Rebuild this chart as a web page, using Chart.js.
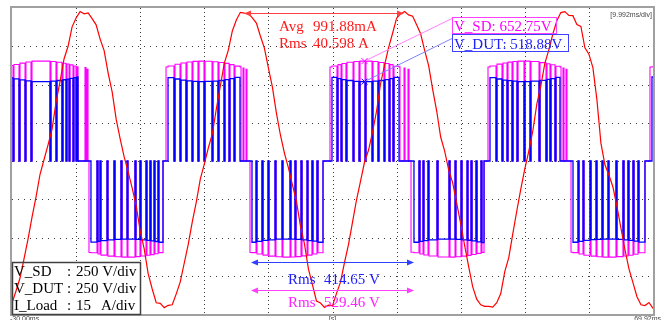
<!DOCTYPE html>
<html><head><meta charset="utf-8">
<script src="https://cdn.jsdelivr.net/npm/chart.js@4.4.1/dist/chart.umd.min.js"></script>
<style>html,body{margin:0;padding:0;background:#fff;overflow:hidden}#wrap{width:662px;height:320px;position:relative}</style>
</head><body><div id="wrap"><canvas id="c" width="662" height="320"></canvas></div>
<script>
// ---- scope settings ----
const timeRangeMs = [-30, 69.92];
const msPerDiv = 9.992;
const voltsPerDiv = 250;
const ampsPerDiv = 15;
const sampleStepMs = 0.6245;

// ---- I_Load (A), sampled every sampleStepMs from -30 ms ----
const currentA = [
-55.7,-51.0,-45.9,-38.4,-30.6,-22.0,-14.1,-5.2,0.6,6.3,12.5,23.1,31.2,40.1,45.0,52.6,56.1,58.6,57.7,58.1,55.8,53.4,47.8,43.3,34.5,27.1,16.4,8.7,1.6,-4.3,-10.6,-17.6,-27.5,-34.5,-44.3,-50.2,-55.6,-55.8,
-57.5,-56.6,-56.4,-52.1,-47.4,-40.0,-32.6,-23.9,-16.1,-7.1,-1.2,5.1,10.6,20.4,29.4,38.4,43.5,51.0,55.3,58.3,58.0,57.9,56.1,54.1,49.0,44.3,36.5,29.0,18.8,10.2,3.1,-2.7,-9.4,-15.7,-25.5,-32.5,-42.4,-48.6,-54.9,-55.7,-57.4,
-56.5,-56.8,-51.9,-47.5,-39.8,-32.7,-24.0,-15.2,-7.9,-0.4,4.3,11.4,19.6,30.3,37.6,44.5,50.1,56.0,57.7,58.6,57.3,56.8,53.4,49.9,43.4,37.4,28.1,19.7,9.4,3.9,-3.5,-8.6,-16.5,-24.6,-33.3,-41.5,-49.4,-54.2,-56.4,-57.0,
-57.0,-57.3,-55.6,-52.0,-43.4,-37.9,-28.6,-19.6,-11.0,-3.1,3.9,11.8,22.3,29.5,38.3,43.6,49.8,55.0,58.2,58.6,57.1,57.0,53.5,52.8,44.4,41.9,36.6,24.0,7.0,-1.5,-5.5,-10.2,-17.8,-26.3,-34.8,-42.3,-47.7,-53.2,-56.4,-56.7,-55.5,-57.8
];

// ---- switching events: from each time on, the trace holds the listed level ----
const switchTimesMs = [
-30.00,-29.84,-29.69,-28.91,-28.75,-27.97,-27.82,-27.04,-26.88,-24.08,-23.92,-23.14,-22.99,-22.21,-22.05,-21.58,-21.43,-21.11,-20.96,-20.49,-20.34,-20.02,-19.87,-19.71,-18.62,-18.46,-18.31,-18.15,
-18.00,-17.69,-16.75,-16.59,-16.28,-16.13,-15.19,-15.04,-14.10,-13.94,-13.01,-12.85,-12.07,-11.92,-10.83,-10.67,-10.05,-9.89,-9.11,-8.96,-8.49,-8.33,-7.86,-7.71,-7.24,-7.09,-6.46,
-5.99,-5.68,-4.75,-4.59,-3.81,-3.66,-2.88,-2.72,-1.94,-1.79,-1.01,-0.85,-0.07,0.09,1.18,1.33,2.11,2.27,3.05,3.20,3.83,3.98,4.61,4.76,5.54,5.70,6.01,6.16,6.48,6.63,
7.10,7.41,8.04,8.19,8.97,9.13,9.91,10.06,11.00,11.15,12.09,12.24,13.34,13.49,14.11,14.27,15.05,15.21,15.99,16.14,16.76,16.92,17.54,17.70,18.48,
19.57,19.88,20.66,20.82,21.29,21.44,22.06,22.22,23.16,23.31,24.09,24.25,25.03,25.18,26.12,26.27,27.05,27.21,27.99,28.14,28.77,28.92,29.39,29.55,30.33,30.48,31.11,31.26,31.73,31.89,
32.20,32.66,33.44,33.60,34.07,34.22,34.85,35.00,36.25,36.41,38.12,38.28,39.06,39.21,39.99,40.15,40.93,41.08,41.55,41.71,42.33,42.49,43.11,43.26,43.58,
44.20,44.51,45.45,45.60,46.38,46.54,47.16,47.32,47.94,48.10,48.72,48.88,49.81,49.97,50.75,50.90,52.15,52.31,53.24,53.40,53.86,54.02,54.64,54.80,55.42,55.58,55.89,56.05,56.36,56.51,
57.14,57.45,58.23,58.39,59.01,59.16,60.10,60.26,61.04,61.19,61.97,62.13,62.91,63.06,64.15,64.31,65.24,65.40,66.02,66.18,66.80,66.96,67.58,67.74,68.67,
69.45,69.76,69.92
];
const vDutLevelsV = [
543,0,537,0,530,0,524,0,519,0,522,0,526,0,531,0,535,0,540,0,545,0,549,0,0,0,0,0,
0,-530,0,-525,0,-520,0,-515,0,-512,0,-510,0,-510,0,-512,0,-515,0,-519,0,-522,0,-526,0,-531,0,
0,545,0,536,0,529,0,524,0,521,0,519,0,520,0,522,0,526,0,532,0,538,0,546,0,0,0,0,0,0,
0,-531,0,-525,0,-519,0,-515,0,-511,0,-510,0,-511,0,-512,0,-516,0,-520,0,-524,0,-531,0,
0,546,0,538,0,532,0,526,0,521,0,519,0,519,0,522,0,526,0,532,0,538,0,546,0,0,0,0,0,0,
0,-531,0,-525,0,-520,0,-515,0,-511,0,-510,0,-512,0,-515,0,-518,0,-522,0,-528,0,-533,0,
0,545,0,536,0,529,0,525,0,522,0,519,0,519,0,522,0,527,0,533,0,539,0,547,0,0,0,0,0,0,
0,-531,0,-525,0,-519,0,-514,0,-512,0,-510,0,-510,0,-512,0,-515,0,-519,0,-524,0,-530,0,
0,549,549
];
const vSdLevelsV = [
624,0,631,0,640,0,647,0,653,0,650,0,645,0,639,0,634,0,628,0,621,0,616,0,610,0,600,0,
-598,-600,0,-608,0,-615,0,-622,0,-626,0,-628,0,-628,0,-625,0,-621,0,-616,0,-612,0,-606,0,-599,0,
614,621,0,632,0,641,0,647,0,651,0,653,0,652,0,649,0,644,0,638,0,630,0,620,615,0,608,0,600,0,
-598,-599,0,-608,0,-615,0,-622,0,-626,0,-628,0,-627,0,-625,0,-620,0,-615,0,-608,0,-600,0,
614,621,0,630,0,637,0,645,0,650,0,653,0,653,0,650,0,644,0,637,0,630,0,619,615,0,608,0,600,0,
-596,-600,0,-608,0,-614,0,-621,0,-627,0,-628,0,-626,0,-622,0,-617,0,-611,0,-604,0,-597,0,
614,621,0,633,0,641,0,646,0,650,0,653,0,653,0,650,0,643,0,636,0,629,0,619,615,0,608,0,600,0,
-596,-599,0,-608,0,-616,0,-622,0,-626,0,-628,0,-628,0,-625,0,-621,0,-616,0,-609,0,-600,0,
614,616,616
];

// ---- cursor / measurement readouts ----
const cursorTimeMs = 24.95;
const cursorVsdV = 652.75;
const cursorVdutV = 518.88;
const currentSpanMs = [6.32, 30.95];
const currentSpanLevelA = 58.0;
const rmsSpanMs = [7.41, 32.51];
const currentReadout = ["Avg", "991.88mA", "Rms", "40.598 A"];
const vsdReadout = "V_SD: 652.75V";
const vdutReadout = "V_DUT: 518.88V";
const vdutRms = ["Rms", "414.65 V"];
const vsdRms = ["Rms", "529.46 V"];
const scaleNames = ["V_SD", "V_DUT", "I_Load"];
const scaleValues = ["250 V/div", "250 V/div", "15"];
const timebaseLabel = "[9.992ms/div]";
const axisLabels = ["-30.00ms", "[s]", "69.92ms"];

const SERIF = '"Liberation Serif", "Times New Roman", serif';

function arrowLine(ctx, x1, x2, y, color) {
  ctx.strokeStyle = color; ctx.fillStyle = color; ctx.lineWidth = 1;
  ctx.beginPath(); ctx.moveTo(x1, y); ctx.lineTo(x2, y); ctx.stroke();
  ctx.beginPath(); ctx.moveTo(x1 - 1, y); ctx.lineTo(x1 + 6, y - 3); ctx.lineTo(x1 + 6, y + 3); ctx.closePath(); ctx.fill();
  ctx.beginPath(); ctx.moveTo(x2 + 1, y); ctx.lineTo(x2 - 6, y - 3); ctx.lineTo(x2 - 6, y + 3); ctx.closePath(); ctx.fill();
}
function xMark(ctx, x, y, color) {
  ctx.strokeStyle = color; ctx.lineWidth = 1;
  ctx.beginPath(); ctx.moveTo(x - 3, y - 3); ctx.lineTo(x + 3, y + 3); ctx.moveTo(x + 3, y - 3); ctx.lineTo(x - 3, y + 3); ctx.stroke();
}

const scopePlugin = {
  id: 'scope',
  beforeDatasetsDraw(chart) {
    const { ctx, chartArea: a, scales } = chart;
    const x = scales.x, yV = scales.yV;
    ctx.save();
    ctx.strokeStyle = '#3a3a3a'; ctx.lineWidth = 1;
    ctx.setLineDash([1, 3]);
    for (let k = 1; k < 10; k++) {
      const px = Math.round(x.getPixelForValue(timeRangeMs[0] + k * msPerDiv)) + 0.5;
      ctx.beginPath(); ctx.moveTo(px, a.top); ctx.lineTo(px, a.bottom); ctx.stroke();
    }
    ctx.setLineDash([1, 5]);
    for (let k = 1; k < 8; k++) {
      const py = Math.round(yV.getPixelForValue(-4 * voltsPerDiv + k * voltsPerDiv)) + 0.5;
      ctx.beginPath(); ctx.moveTo(a.left, py); ctx.lineTo(a.right, py); ctx.stroke();
    }
    ctx.setLineDash([]);
    // scale info box (under the traces)
    const bx = a.left + 0.5, by = 262.5, bw = 128, bh = a.bottom - 262;
    ctx.fillStyle = '#fff'; ctx.fillRect(bx, by, bw, bh);
    ctx.restore();
  },
  afterDatasetsDraw(chart) {
    const { ctx, chartArea: a, scales } = chart;
    const x = scales.x, yV = scales.yV, yA = scales.yA;
    ctx.save();
    // frame
    ctx.strokeStyle = '#a0a0a0'; ctx.lineWidth = 2;
    ctx.strokeRect(a.left - 1, a.top - 1, a.right - a.left + 2, a.bottom - a.top + 2);

    // scale info box border + text
    ctx.strokeStyle = '#404040'; ctx.lineWidth = 1.5;
    ctx.strokeRect(a.left + 0.5, 262.5, 128, a.bottom - 262);
    ctx.fillStyle = '#000'; ctx.font = '15px ' + SERIF; ctx.textBaseline = 'alphabetic'; ctx.textAlign = 'left';
    const rows = [276, 293, 310];
    scaleNames.forEach((n, i) => {
      ctx.fillText(n, 14, rows[i]);
      ctx.fillText(':', 67, rows[i]);
      ctx.fillText(scaleValues[i], 76, rows[i]);
    });
    ctx.fillText('A/div', 101, rows[2]);

    // current measurement span
    const cy = Math.round(yA.getPixelForValue(currentSpanLevelA)) + 0.5;
    arrowLine(ctx, x.getPixelForValue(currentSpanMs[0]), x.getPixelForValue(currentSpanMs[1]), cy, '#ff4040');
    ctx.fillStyle = '#ff1a1a'; ctx.font = '15px ' + SERIF;
    ctx.fillText(currentReadout[0], 279, 31);
    ctx.fillText(currentReadout[1], 313, 31);
    ctx.fillText(currentReadout[2], 279, 48);
    ctx.fillText(currentReadout[3], 313, 48);

    // cursor markers and leaders
    const mx = x.getPixelForValue(cursorTimeMs);
    const ySd = yV.getPixelForValue(cursorVsdV), yDut = yV.getPixelForValue(cursorVdutV);
    ctx.lineWidth = 1;
    ctx.strokeStyle = '#ff80ff';
    ctx.beginPath(); ctx.moveTo(mx, ySd); ctx.lineTo(452, 18.5); ctx.stroke();
    ctx.strokeStyle = '#8080ff';
    ctx.beginPath(); ctx.moveTo(mx, yDut); ctx.lineTo(452, 38.5); ctx.stroke();
    xMark(ctx, mx, ySd, '#ff00ff');
    xMark(ctx, mx, yDut, '#0000ff');

    // readout boxes
    ctx.strokeStyle = '#ff40ff'; ctx.lineWidth = 1;
    ctx.strokeRect(452.5, 17.5, 104, 16);
    ctx.strokeStyle = '#4040ff';
    ctx.strokeRect(452.5, 34.5, 116, 17);
    ctx.fillStyle = '#ff00ff'; ctx.fillText(vsdReadout, 454, 31);
    ctx.fillStyle = '#2020ff'; ctx.fillText(vdutReadout, 454, 48.5);

    // rms spans
    const r1 = x.getPixelForValue(rmsSpanMs[0]), r2 = x.getPixelForValue(rmsSpanMs[1]);
    arrowLine(ctx, r1, r2, 262.5, '#3040ff');
    arrowLine(ctx, r1, r2, 290.5, '#ff40ff');
    ctx.fillStyle = '#2020ff';
    ctx.fillText(vdutRms[0], 288, 284); ctx.fillText(vdutRms[1], 324, 284);
    ctx.fillStyle = '#ff20ff';
    ctx.fillText(vsdRms[0], 288, 307); ctx.fillText(vsdRms[1], 324, 307);

    // timebase + axis labels
    ctx.fillStyle = '#444'; ctx.font = '7px "Liberation Sans", Arial, sans-serif';
    ctx.textAlign = 'right'; ctx.fillText(timebaseLabel, 652, 17);
    ctx.textBaseline = 'top';
    ctx.textAlign = 'left'; ctx.fillText(axisLabels[0], 10, 316);
    ctx.textAlign = 'center'; ctx.fillText(axisLabels[1], x.getPixelForValue((timeRangeMs[0] + timeRangeMs[1]) / 2), 316);
    ctx.textAlign = 'right'; ctx.fillText(axisLabels[2], 661, 316);
    ctx.restore();
  }
};

const currentPts = currentA.map((v, i) => ({ x: timeRangeMs[0] + i * sampleStepMs, y: v }));
const vDutPts = switchTimesMs.map((t, i) => ({ x: t, y: vDutLevelsV[i] }));
const vSdPts = switchTimesMs.map((t, i) => ({ x: t, y: vSdLevelsV[i] }));

new Chart(document.getElementById('c'), {
  type: 'line',
  data: {
    datasets: [
      { label: 'I_Load', data: currentPts, yAxisID: 'yA', borderColor: '#ff0000', borderWidth: 1.2, pointRadius: 0, tension: 0 },
      { label: 'V_DUT', data: vDutPts, yAxisID: 'yV', borderColor: '#0000ff', borderWidth: 1.3, pointRadius: 0, stepped: true },
      { label: 'V_SD', data: vSdPts, yAxisID: 'yV', borderColor: '#ff00ff', borderWidth: 1.1, pointRadius: 0, stepped: true }
    ]
  },
  options: {
    responsive: false, animation: false, devicePixelRatio: 1,
    layout: { padding: { left: 12, top: 8, right: 9, bottom: 6 } },
    plugins: { legend: { display: false }, tooltip: { enabled: false } },
    scales: {
      x: { type: 'linear', min: timeRangeMs[0], max: timeRangeMs[1], display: false },
      yV: { type: 'linear', min: -4 * voltsPerDiv, max: 4 * voltsPerDiv, display: false },
      yA: { type: 'linear', min: -4 * ampsPerDiv, max: 4 * ampsPerDiv, display: false }
    }
  },
  plugins: [scopePlugin]
});
</script>
</body></html>
